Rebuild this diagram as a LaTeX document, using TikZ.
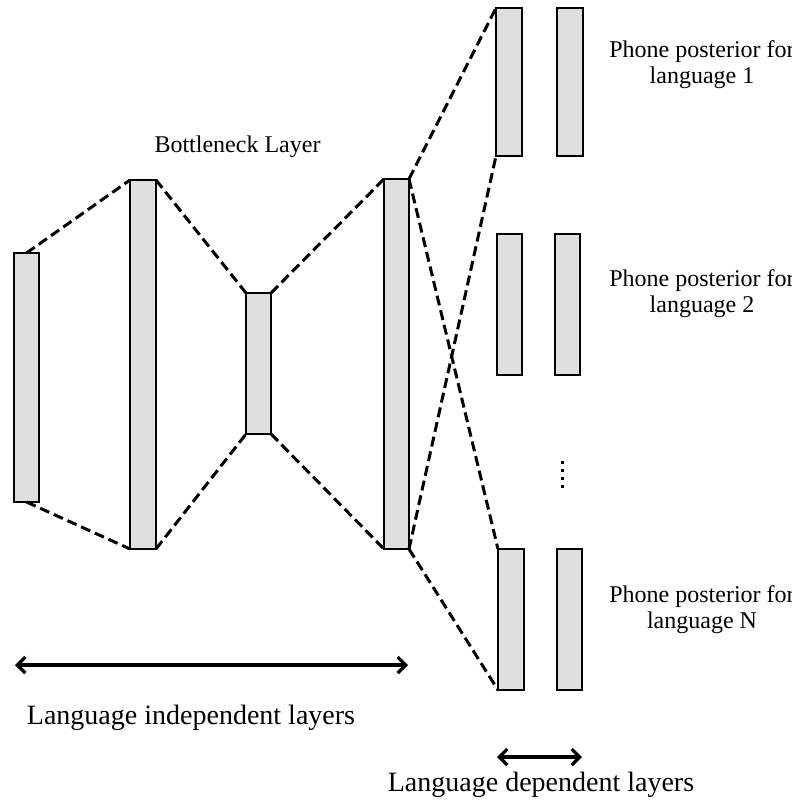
\documentclass[tikz,border=0pt]{standalone}
\usepackage{fontspec}
\setmainfont{Liberation Serif}
\usetikzlibrary{arrows.meta}
\tikzset{
  layerbox/.style={draw=black, fill=gray!25, line width=1.2pt, inner sep=0pt, outer sep=0pt, minimum width=25pt},
  conn/.style={line width=3pt, dash pattern=on 10pt off 5pt},
  span/.style={line width=3.2pt, {Straight Barb[length=8pt,width=16pt,line width=3.2pt]}-{Straight Barb[length=8pt,width=16pt,line width=3.2pt]}},
  lbl/.style={inner sep=0pt, align=center, font=\fontsize{24}{26}\selectfont},
  biglbl/.style={inner sep=0pt, font=\fontsize{28}{30}\selectfont}
}
\begin{document}
\begin{tikzpicture}[x=1pt, y=-1pt]
\useasboundingbox (0,0) rectangle (792,804);
\clip (0,0) rectangle (792,804);
% language independent layers
\node[layerbox, minimum height=249pt] (r1) at (26.5,377.5) {};
\node[layerbox, minimum height=369pt, minimum width=26pt] (r2) at (143,364.5) {};
\node[layerbox, minimum height=141pt] (r3) at (258.5,363.5) {};
\node[layerbox, minimum height=370pt] (r4) at (396.5,364) {};
% language dependent layers
\node[layerbox, minimum height=148pt, minimum width=26pt] (o1a) at (509,82) {};
\node[layerbox, minimum height=148pt, minimum width=26pt] (o1b) at (570,82) {};
\node[layerbox, minimum height=141pt] (o2a) at (509.5,304.5) {};
\node[layerbox, minimum height=141pt] (o2b) at (567.5,304.5) {};
\node[layerbox, minimum height=141pt, minimum width=26pt] (o3a) at (511,619.5) {};
\node[layerbox, minimum height=141pt] (o3b) at (569.5,619.5) {};
% dashed connectors
\draw[conn] (r1.north) -- (r2.north west);
\draw[conn] (r1.south) -- (r2.south west);
\draw[conn] (r2.north east) -- (r3.north west);
\draw[conn] (r2.south east) -- (r3.south west);
\draw[conn] (r3.north east) -- (r4.north west);
\draw[conn] (r3.south east) -- (r4.south west);
\draw[conn] (r4.north east) -- (o1a.north west);
\draw[conn] (r4.north east) -- (o3a.north west);
\draw[conn] (r4.south east) -- (o1a.south west);
\draw[conn] (r4.south east) -- (o3a.south west);
% vertical ellipsis
\foreach \yy in {462,470,478,486} \fill (560.5,\yy-1.5) rectangle (563.5,\yy+1.5);
% labels
\node[lbl] (bn) at (237.5,147) {Bottleneck Layer};
\node[lbl] (p1) at (702,65) {Phone posterior for\\language 1};
\node[lbl] (p2) at (702,294) {Phone posterior for\\language 2};
\node[lbl] (p3) at (702,610) {Phone posterior for\\language N};
% span arrows
\coordinate (a1l) at (15,665);
\coordinate (a1r) at (408,665);
\draw[span] (a1l) -- (a1r);
\node[biglbl] (li) at (191,718) {Language independent layers};
\coordinate (a2l) at (497,757);
\coordinate (a2r) at (582,757);
\draw[span] (a2l) -- (a2r);
\node[biglbl] (ld) at (541,785) {Language dependent layers};
\end{tikzpicture}
\end{document}
